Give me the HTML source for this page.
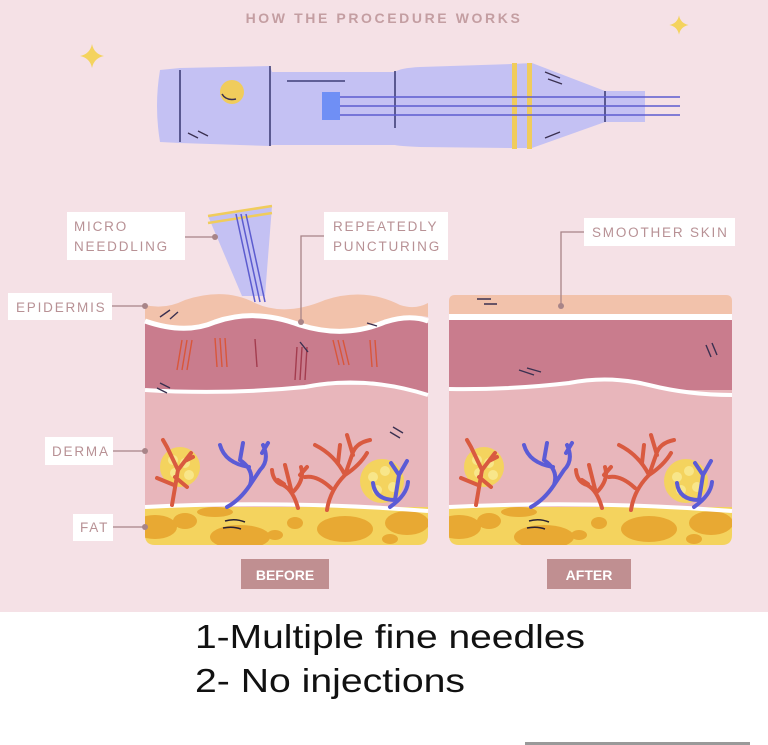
<!DOCTYPE html>
<html><head><meta charset="utf-8"><style>
html,body{margin:0;padding:0;background:#fff}
svg{display:block}
</style></head><body>
<svg width="768" height="745" viewBox="0 0 768 745" xmlns="http://www.w3.org/2000/svg" font-family="Liberation Sans, sans-serif">
<defs>
<clipPath id="fatclip"><path d="M0 212 L283 212 L283 240 Q283 250 273 250 L10 250 Q0 250 0 240 Z"/></clipPath>
<g id="skinBase">
 <g clip-path="url(#fatclip)">
 <rect x="0" y="205" width="283" height="50" fill="#f4d35e"/>
 <g fill="#e8a933">
  <ellipse cx="10" cy="232" rx="22" ry="12"/><ellipse cx="40" cy="226" rx="12" ry="8"/>
  <ellipse cx="95" cy="242" rx="30" ry="12"/><ellipse cx="150" cy="228" rx="8" ry="6"/>
  <ellipse cx="200" cy="234" rx="28" ry="13"/><ellipse cx="262" cy="228" rx="22" ry="12"/>
  <ellipse cx="130" cy="240" rx="8" ry="5"/><ellipse cx="245" cy="244" rx="8" ry="5"/>
  <ellipse cx="70" cy="217" rx="18" ry="5"/>
 </g>
 </g>
 <path d="M0 212 Q140 205 283 216" stroke="#fff" stroke-width="4" fill="none"/>
 <g stroke="#2c2230" stroke-width="1.5" fill="none"><path d="M80 226 Q90 223 100 227"/><path d="M78 233 Q88 231 96 234"/></g>
 <circle cx="35" cy="172" r="20" fill="#f4d35e"/><g fill="#f8e68a"><circle cx="28" cy="165" r="5"/><circle cx="40" cy="168" r="5"/><circle cx="30" cy="178" r="5"/><circle cx="44" cy="180" r="5"/></g>
 <circle cx="237" cy="186" r="22" fill="#f4d35e"/><g fill="#f8e68a"><circle cx="228" cy="182" r="5"/><circle cx="240" cy="176" r="5"/><circle cx="232" cy="195" r="5"/><circle cx="248" cy="192" r="5"/></g>
 <g fill="none" stroke-linecap="round" stroke-width="4">
  <path d="M27 210 L33 175 L22 152 M33 175 L46 158 M29 190 L12 183 M40 166 L48 162 M22 152 L18 145 M30 182 L42 192" stroke="#d95a40"/>
  <path d="M82 212 Q95 205 105 190 Q110 175 95 165 M105 190 L115 175 Q125 165 118 150 M104 172 Q80 168 75 150 M117 158 L123 148 M95 165 L98 148" stroke="#5b5bd6"/>
  <path d="M153 213 Q148 195 138 190 Q128 187 127 175 M148 197 Q160 185 156 172 M155 180 L162 172 M139 189 L133 185 M147 198 L140 170" stroke="#d95a40"/>
  <path d="M182 215 Q185 195 200 180 Q215 170 222 158 M186 193 Q172 180 160 182 M200 180 Q190 160 170 150 M193 168 L195 150 M200 180 L207 160 Q210 148 225 145 M208 160 L202 140" stroke="#d95a40"/>
  <path d="M245 212 Q262 200 263 187 M250 205 Q230 205 228 188 M250 205 L254 180 L246 168 M254 180 L262 166" stroke="#5b5bd6"/>
 </g>
</g>
<path id="star" d="M0 -12 Q2 -2 12 0 Q2 2 0 12 Q-2 2 -12 0 Q-2 -2 0 -12Z" fill="#f4d35e"/>
</defs>
<rect x="0" y="0" width="768" height="612" fill="#f5e1e6"/>
<text x="384" y="23" text-anchor="middle" font-size="14" font-weight="bold" fill="#c49ea2" letter-spacing="2.6">HOW THE PROCEDURE WORKS</text>
<use href="#star" x="92" y="56"/>
<g transform="translate(679 25) scale(0.8)"><use href="#star"/></g>
<g>
 <path d="M160 70 L180 68 L270 66 L272 72 L395 72 Q400 68 420 67 L512 64 L532 63 L605 91 L645 91 L645 122 L605 122 L532 148 L512 148 L420 147 Q398 146 395 145 L272 145 L270 146 L180 143 L160 142 Q154 106 160 70Z" fill="#c4c1f3"/>
 <rect x="512" y="63" width="5" height="86" fill="#f0cc5c"/><rect x="527" y="63" width="5" height="86" fill="#f0cc5c"/>
 <g stroke="#3f3f78" stroke-width="1.6"><line x1="180" y1="70" x2="180" y2="142"/><line x1="270" y1="66" x2="270" y2="146"/><line x1="395" y1="71" x2="395" y2="128"/><line x1="605" y1="91" x2="605" y2="122"/><line x1="287" y1="81" x2="345" y2="81"/></g>
 <g stroke="#5c5ccf" stroke-width="1.5"><line x1="340" y1="97" x2="680" y2="97"/><line x1="340" y1="106" x2="680" y2="106"/><line x1="340" y1="115" x2="680" y2="115"/></g>
 <rect x="322" y="92" width="18" height="28" fill="#6f8ff5"/>
 <circle cx="232" cy="92" r="12" fill="#f0cc5c"/>
 <path d="M222 94 Q226 101 236 99" stroke="#3a3050" stroke-width="1.5" fill="none"/>
 <g stroke="#3a3050" stroke-width="1.3"><line x1="188" y1="133" x2="198" y2="138"/><line x1="198" y1="131" x2="208" y2="136"/><line x1="545" y1="72" x2="560" y2="78"/><line x1="548" y1="79" x2="562" y2="84"/><line x1="545" y1="138" x2="560" y2="132"/></g>
</g>
<g transform="translate(145 295)">
 <rect x="0" y="90" width="283" height="130" fill="#e8b6bb"/>
 <path d="M0 28 Q40 40 70 28 Q110 15 155 32 Q200 45 240 28 Q265 20 283 28 L283 100 Q220 80 160 92 Q80 100 0 95Z" fill="#c97c8d"/>
 <path d="M0 95 Q80 100 160 92 Q220 80 283 100" stroke="#fff" stroke-width="4" fill="none"/>
 <path d="M0 10 Q20 15 40 5 Q80 -8 110 8 Q140 22 180 5 Q220 -8 255 10 Q270 15 283 8 L283 22 Q265 18 240 26 Q200 42 155 28 Q110 12 70 26 Q40 38 0 25Z" fill="#f2c2ab"/>
 <path d="M0 26 Q40 40 70 27 Q110 13 155 30 Q200 44 240 27 Q265 19 283 26" stroke="#fff" stroke-width="5" fill="none"/>
 <g stroke-width="1.4">
  <g stroke="#d9563a"><path d="M37 45 L32 75 M42 45 L37 75 M47 45 L42 75"/><path d="M70 43 L72 72 M75 43 L77 72 M80 43 L82 72"/><path d="M188 45 L194 70 M193 45 L199 70 M198 45 L204 70"/><path d="M225 45 L227 72 M230 45 L232 72"/></g>
  <g stroke="#a33c4e"><path d="M152 52 L150 85 M157 52 L155 85 M162 52 L160 85"/><path d="M110 44 L112 72"/></g>
  <g stroke="#3a3050"><path d="M155 47 L163 57"/><path d="M12 93 L22 98 M15 88 L25 93"/><path d="M245 137 L255 143 M248 132 L258 138"/><path d="M15 22 L25 15 M25 24 L33 17"/><path d="M222 28 L232 31"/></g>
 </g>
 <use href="#skinBase"/>
</g>
<path d="M208 216 L272 206 L265 296 L242 296 Z" fill="#c4c1f3"/>
<path d="M208 216 L272 206 M208 223 L272 213" stroke="#f0cc5c" stroke-width="2.5"/>
<g stroke="#5c5ccf" stroke-width="1.5"><line x1="236" y1="214" x2="255" y2="302"/><line x1="241" y1="214" x2="260" y2="302"/><line x1="246" y1="214" x2="265" y2="302"/></g>
<g transform="translate(449 295)">
 <rect x="0" y="90" width="283" height="130" fill="#e8b6bb"/>
 <rect x="0" y="25" width="283" height="70" fill="#c97c8d"/>
 <path d="M0 94 Q60 95 120 88 Q160 80 200 90 Q240 100 283 100 L283 104 L0 104Z" fill="#e8b6bb"/>
 <path d="M0 94 Q60 95 120 88 Q160 80 200 90 Q240 100 283 100" stroke="#fff" stroke-width="4" fill="none"/>
 <rect x="0" y="18" width="283" height="7" fill="#fff"/>
 <path d="M0 6 Q0 0 6 0 L277 0 Q283 0 283 6 L283 19 L0 19Z" fill="#f2c2ab"/>
 <g stroke="#3a3050" stroke-width="1.4"><path d="M28 4 L42 4 M35 9 L48 9"/><path d="M70 75 L85 80 M78 73 L92 77"/><path d="M257 50 L262 62 M263 48 L268 60"/></g>
 <use href="#skinBase"/>
</g>
<g font-size="13.5" fill="#b89195" letter-spacing="1.8">
 <rect x="67" y="212" width="118" height="48" fill="#fff"/><text x="74" y="231">MICRO</text><text x="74" y="251">NEEDDLING</text>
 <rect x="324" y="212" width="124" height="48" fill="#fff"/><text x="333" y="231">REPEATEDLY</text><text x="333" y="251">PUNCTURING</text>
 <rect x="8" y="293" width="104" height="27" fill="#fff"/><text x="16" y="312">EPIDERMIS</text>
 <rect x="45" y="437" width="68" height="28" fill="#fff"/><text x="52" y="456">DERMA</text>
 <rect x="73" y="514" width="40" height="27" fill="#fff"/><text x="80" y="532">FAT</text>
 <rect x="584" y="218" width="151" height="28" fill="#fff"/><text x="592" y="237">SMOOTHER SKIN</text>
</g>
<g stroke="#a88488" stroke-width="1.3" fill="none">
 <path d="M185 237 L215 237"/><path d="M324 236 L301 236 L301 322"/><path d="M112 306 L145 306"/><path d="M113 451 L145 451"/><path d="M113 527 L145 527"/><path d="M584 232 L561 232 L561 306"/>
</g>
<g fill="#a88488"><circle cx="215" cy="237" r="3"/><circle cx="301" cy="322" r="3"/><circle cx="145" cy="306" r="3"/><circle cx="145" cy="451" r="3"/><circle cx="145" cy="527" r="3"/><circle cx="561" cy="306" r="3"/></g>
<rect x="241" y="559" width="88" height="30" fill="#c08f91"/>
<text x="285" y="580" text-anchor="middle" font-size="14" font-weight="bold" fill="#fff">BEFORE</text>
<rect x="547" y="559" width="84" height="30" fill="#c08f91"/>
<text x="589" y="580" text-anchor="middle" font-size="14" font-weight="bold" fill="#fff">AFTER</text>
<g font-size="33" fill="#111"><text x="195" y="648" textLength="390" lengthAdjust="spacingAndGlyphs">1-Multiple fine needles</text><text x="195" y="692" textLength="270" lengthAdjust="spacingAndGlyphs">2- No injections</text></g>
<rect x="525" y="742" width="225" height="3" fill="#999"/>
</svg>
</body></html>
